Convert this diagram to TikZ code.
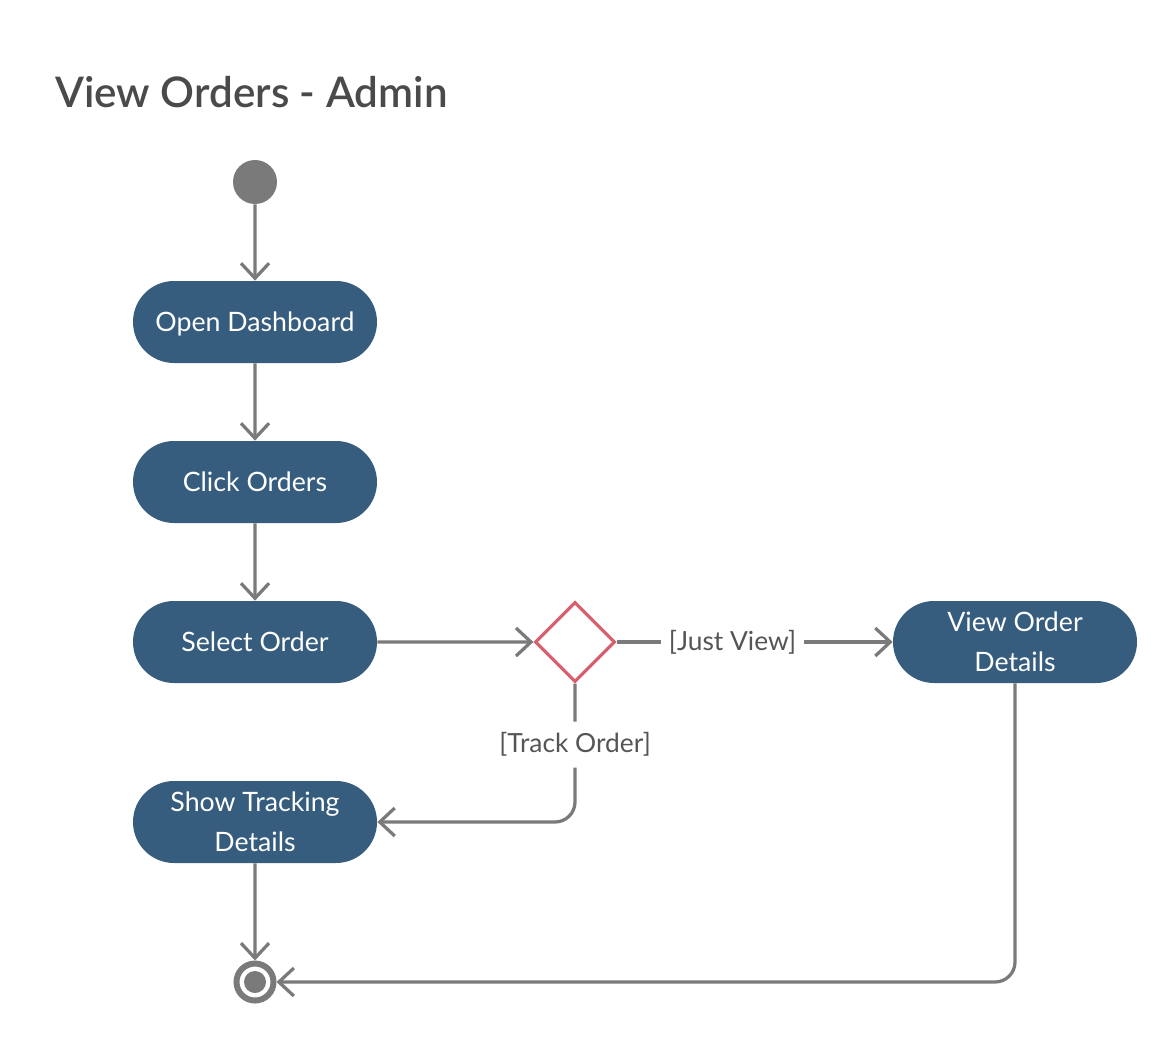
\documentclass[tikz,border=0pt]{standalone}
\usepackage{fontspec}
\setmainfont{Lato}
\newfontfamily\titlefont{Lato Semibold}
\usetikzlibrary{arrows.meta,shapes.misc,shapes.geometric}
\definecolor{actblue}{HTML}{365C7E}
\definecolor{flowgray}{HTML}{7A7A7A}
\definecolor{decred}{HTML}{D6606D}
\definecolor{titlegray}{HTML}{4A4A4A}
\definecolor{labelgray}{HTML}{555555}
\tikzset{
    action/.style={rounded rectangle, fill=actblue, text=white, minimum width=4.88cm,
        minimum height=1.64cm, inner sep=0pt, align=center, text depth=0pt,
        font=\fontsize{15.2}{22.8}\selectfont},
    flow/.style={draw=flowgray, line width=0.065cm, -{Straight Barb[length=0.3cm,width=0.56cm]}},
    guard/.style={fill=white, text=labelgray, inner xsep=0.15cm, inner ysep=0.22cm,
        font=\fontsize{15}{18}\selectfont},
}
\begin{document}
\begin{tikzpicture}
    \useasboundingbox (0,0) rectangle (23.16,-20.82);
    \node[anchor=base west, text=titlegray, font=\titlefont\fontsize{24}{29}\selectfont, inner sep=0pt]
        (title) at (1.1,-2.16) {View Orders - Admin};
    % states
    \node[circle, fill=flowgray, minimum size=0.88cm, inner sep=0pt] (start) at (5.1,-3.64) {};
    \node[action] (open) at (5.1,-6.44) {Open Dashboard};
    \node[action] (click) at (5.1,-9.64) {Click Orders};
    \node[action] (select) at (5.1,-12.84) {Select Order};
    \node[diamond, draw=decred, line width=0.065cm, minimum width=1.6cm, minimum height=1.6cm,
        inner sep=0pt] (dec) at (11.5,-12.84) {};
    \node[action] (view) at (20.3,-12.84) {View Order\\Details};
    \node[action] (track) at (5.1,-16.44) {Show Tracking\\Details};
    \node[circle, draw=flowgray, line width=0.12cm, minimum size=0.74cm, inner sep=0pt]
        (end) at (5.1,-19.64) {};
    \fill[flowgray] (end.center) circle (0.22);
    % flows
    \draw[flow] (start) -- (open);
    \draw[flow] (open) -- (click);
    \draw[flow] (click) -- (select);
    \draw[flow] (select) -- (dec);
    \draw[flow] (dec) -- node[guard, pos=0.42] {[Just View]} (view);
    \draw[flow, rounded corners=0.4cm] (dec) |- node[guard, pos=0.22] {[Track Order]} (track);
    \draw[flow, rounded corners=0.4cm] (view) |- (end);
    \draw[flow] (track) -- (end);
\end{tikzpicture}
\end{document}
